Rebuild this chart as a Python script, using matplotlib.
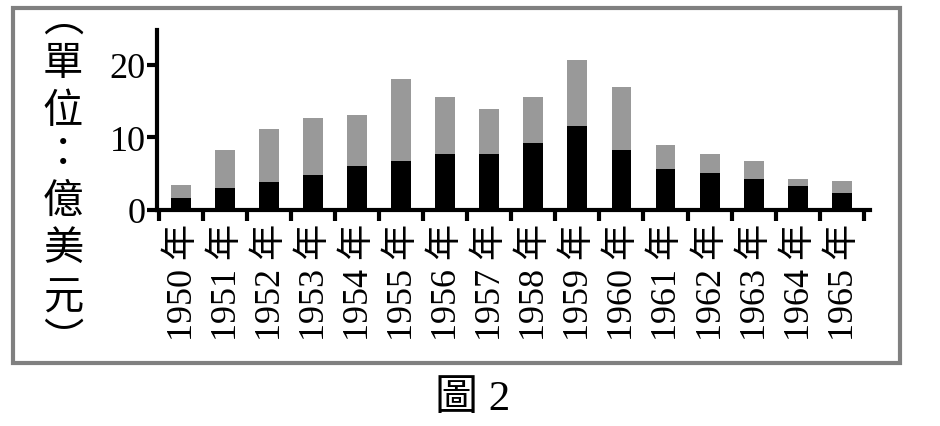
import matplotlib.pyplot as plt
from matplotlib.patches import Rectangle

years = ['1950', '1951', '1952', '1953', '1954', '1955', '1956', '1957',
         '1958', '1959', '1960', '1961', '1962', '1963', '1964', '1965']
black_part = [1.65, 3.0, 3.8, 4.8, 6.1, 6.8, 7.7, 7.7,
              9.2, 11.6, 8.3, 5.7, 5.1, 4.3, 3.3, 2.4]
totals = [3.5, 8.2, 11.1, 12.7, 13.1, 18.1, 15.6, 13.9,
          15.6, 20.6, 16.9, 8.9, 7.7, 6.8, 4.3, 4.0]
grey_part = [t - b for t, b in zip(totals, black_part)]
y_ticks = [0, 10, 20]
y_label = ['︵', '單', '位', '：', '億', '美', '元', '︶']
caption = '圖 2'

serif_cjk = ['Liberation Serif', 'Noto Sans CJK TC']

fig = plt.figure(figsize=(9.4, 4.27), dpi=100)
ax = fig.add_axes([157 / 940, 1 - 211 / 427, (870 - 157) / 940, (211 - 31) / 427])

x = list(range(len(years)))
ax.bar(x, black_part, width=0.45, color='black', zorder=2)
ax.bar(x, grey_part, width=0.45, bottom=black_part, color='#999999', zorder=2)

ax.set_xlim(-0.54, 15.64)
ax.set_ylim(0, 24.8)

for side in ['top', 'right']:
    ax.spines[side].set_visible(False)
for side in ['left', 'bottom']:
    ax.spines[side].set_linewidth(3)

ax.set_yticks(y_ticks)
ax.set_yticklabels([str(v) for v in y_ticks], family=serif_cjk, fontsize=26)
ax.tick_params(axis='y', length=7, width=3, pad=1)

# ticks sit between the bars, labels centred under each bar
ax.set_xticks([i - 0.5 for i in x] + [15.5])
ax.set_xticklabels([])
ax.tick_params(axis='x', length=8, width=3, direction='out')
for i, yr in zip(x, years):
    ax.text(i + 0.05, -1.8, yr + ' 年', rotation=90, ha='center', va='top',
            family=serif_cjk, fontsize=26)

# vertical unit label, one character per line
# (the vertical bracket glyphs sit low/high in their cell, hence 19 and 341)
label_y = [19, 64, 112, 155, 201, 248, 298, 341]
for ch, py in zip(y_label, label_y):
    fig.text(63 / 940, 1 - py / 427, ch, ha='center', va='center',
             family=['Noto Sans CJK TC'], fontsize=29)

fig.text(473 / 940, 1 - 400 / 427, caption, ha='center', va='center',
         family=serif_cjk, fontsize=31)

frame = Rectangle((13 / 940, 1 - 364 / 427), (900 - 13) / 940, (364 - 9) / 427,
                  transform=fig.transFigure, fill=False, edgecolor='#808080',
                  linewidth=3)
fig.patches.append(frame)

fig.savefig('out.png', dpi=100)
